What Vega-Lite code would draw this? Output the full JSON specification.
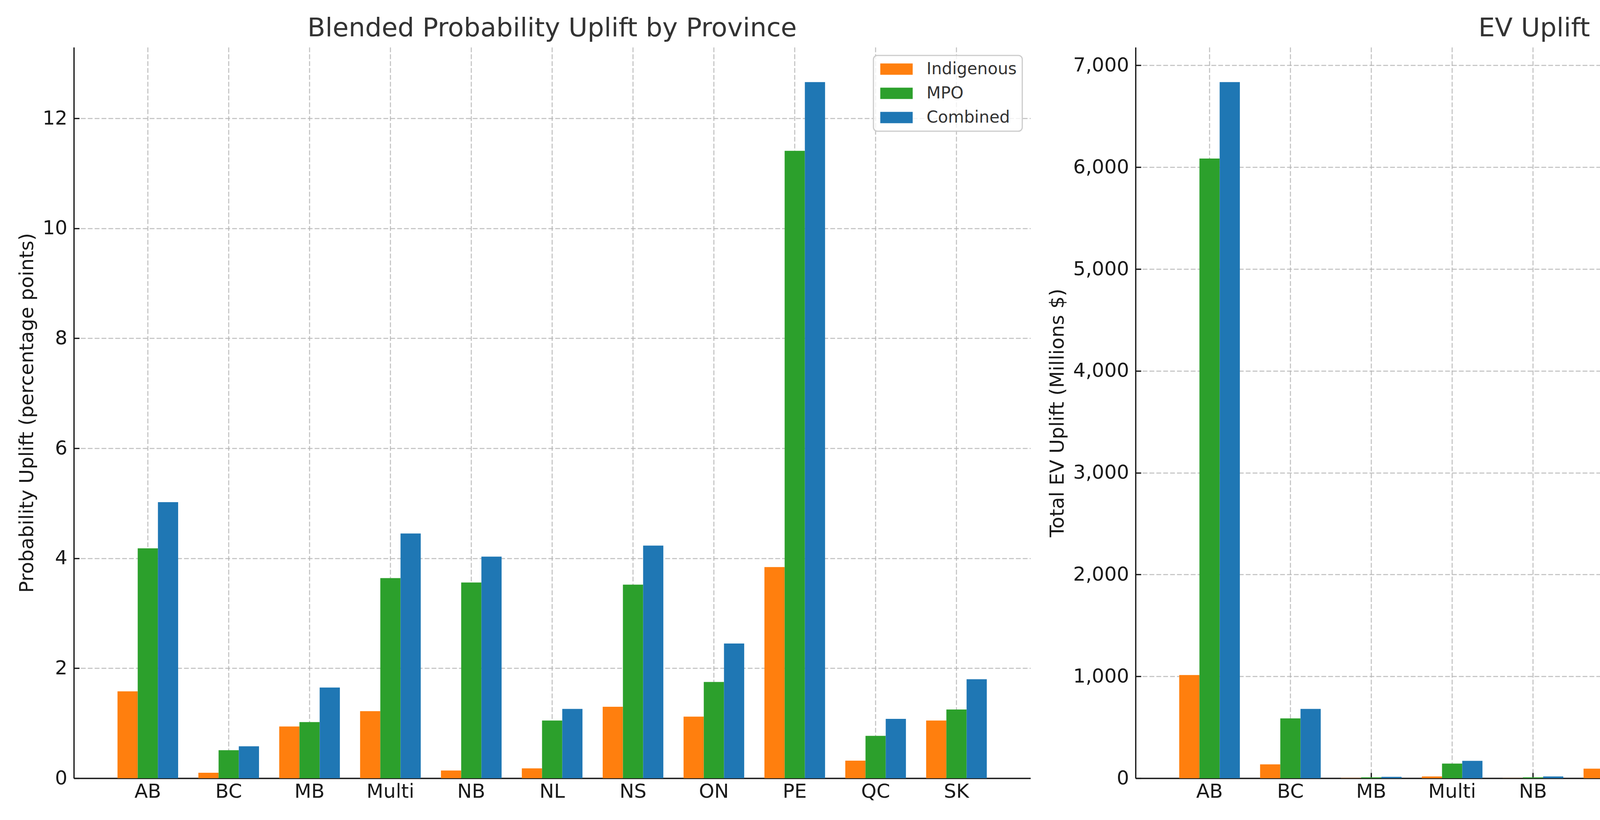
{
  "$schema": "https://vega.github.io/schema/vega-lite/v6.json",
  "background": "white",
  "padding": {"left": 44, "top": 40, "right": 0, "bottom": 0},
  "data": {
    "values": [
      {"province": "AB", "series": "Indigenous", "prob": 1.58, "ev": 1013},
      {"province": "AB", "series": "MPO", "prob": 4.18, "ev": 6085},
      {"province": "AB", "series": "Combined", "prob": 5.02, "ev": 6836},
      {"province": "BC", "series": "Indigenous", "prob": 0.10, "ev": 136},
      {"province": "BC", "series": "MPO", "prob": 0.51, "ev": 588},
      {"province": "BC", "series": "Combined", "prob": 0.58, "ev": 681},
      {"province": "MB", "series": "Indigenous", "prob": 0.94, "ev": 2},
      {"province": "MB", "series": "MPO", "prob": 1.02, "ev": 9},
      {"province": "MB", "series": "Combined", "prob": 1.65, "ev": 13},
      {"province": "Multi", "series": "Indigenous", "prob": 1.22, "ev": 17},
      {"province": "Multi", "series": "MPO", "prob": 3.64, "ev": 144},
      {"province": "Multi", "series": "Combined", "prob": 4.45, "ev": 171},
      {"province": "NB", "series": "Indigenous", "prob": 0.14, "ev": 1},
      {"province": "NB", "series": "MPO", "prob": 3.56, "ev": 9},
      {"province": "NB", "series": "Combined", "prob": 4.03, "ev": 17},
      {"province": "NL", "series": "Indigenous", "prob": 0.18, "ev": 94},
      {"province": "NL", "series": "MPO", "prob": 1.05, "ev": 113},
      {"province": "NL", "series": "Combined", "prob": 1.26, "ev": 152},
      {"province": "NS", "series": "Indigenous", "prob": 1.30, "ev": 21},
      {"province": "NS", "series": "MPO", "prob": 3.52, "ev": 596},
      {"province": "NS", "series": "Combined", "prob": 4.23, "ev": 662},
      {"province": "ON", "series": "Indigenous", "prob": 1.12, "ev": 580},
      {"province": "ON", "series": "MPO", "prob": 1.75, "ev": 673},
      {"province": "ON", "series": "Combined", "prob": 2.45, "ev": 974},
      {"province": "PE", "series": "Indigenous", "prob": 3.84, "ev": 1},
      {"province": "PE", "series": "MPO", "prob": 11.41, "ev": 9},
      {"province": "PE", "series": "Combined", "prob": 12.66, "ev": 9},
      {"province": "QC", "series": "Indigenous", "prob": 0.32, "ev": 90},
      {"province": "QC", "series": "MPO", "prob": 0.77, "ev": 129},
      {"province": "QC", "series": "Combined", "prob": 1.08, "ev": 229},
      {"province": "SK", "series": "Indigenous", "prob": 1.05, "ev": 59},
      {"province": "SK", "series": "MPO", "prob": 1.25, "ev": 113},
      {"province": "SK", "series": "Combined", "prob": 1.80, "ev": 152}
    ]
  },
  "config": {
    "view": {"stroke": null},
    "font": "DejaVu Sans",
    "axis": {
      "domainColor": "#1a1a1a",
      "domainWidth": 3.3,
      "tickColor": "#1a1a1a",
      "tickWidth": 3.3,
      "tickSize": -14,
      "labelFont": "DejaVu Sans",
      "labelFontSize": 50,
      "labelColor": "#1a1a1a",
      "titleFont": "DejaVu Sans",
      "titleFontSize": 50,
      "titleFontWeight": "normal",
      "titleColor": "#1a1a1a",
      "grid": true,
      "gridColor": "#b0b0b0",
      "gridOpacity": 0.7,
      "gridDash": [12.3, 5.3],
      "gridWidth": 3,
      "zindex": 1
    },
    "axisX": {"labelPadding": 23, "labelAngle": 0, "bandPosition": 0.5},
    "axisY": {"labelPadding": 31, "titlePadding": 14},
    "title": {"font": "DejaVu Sans", "fontSize": 66.7, "fontWeight": "normal", "color": "#333333", "offset": 14, "anchor": "middle"},
    "legend": {
      "orient": "top-right",
      "offset": 21,
      "padding": 14,
      "labelFont": "DejaVu Sans",
      "labelFontSize": 42,
      "labelColor": "#333333",
      "labelOffset": 56,
      "labelLimit": 1000,
      "rowPadding": 20,
      "symbolOffset": 24,
      "fillColor": "rgba(255,255,255,0.8)",
      "strokeColor": "#cccccc",
      "strokeWidth": 3,
      "cornerRadius": 10,
      "zindex": 2
    }
  },
  "hconcat": [
    {
      "width": 2449,
      "height": 1872,
      "title": "Blended Probability Uplift by Province",
      "mark": {"type": "bar"},
      "encoding": {
        "x": {"field": "province", "type": "nominal", "sort": null, "scale": {"paddingInner": 0.25, "paddingOuter": 0.54}, "axis": {"title": null}},
        "xOffset": {"field": "series", "type": "nominal", "sort": ["Indigenous", "MPO", "Combined"], "scale": {"paddingInner": 0, "paddingOuter": 0}},
        "y": {"field": "prob", "type": "quantitative", "scale": {"domain": [0, 13.293], "nice": false}, "axis": {"title": "Probability Uplift (percentage points)", "values": [0, 2, 4, 6, 8, 10, 12]}},
        "color": {"field": "series", "type": "nominal", "sort": ["Indigenous", "MPO", "Combined"], "scale": {"domain": ["Indigenous", "MPO", "Combined"], "range": ["#ff7f0e", "#2ca02c", "#1f77b4"]}, "legend": {"title": null, "symbolType": "M-1.976,-0.69H1.976V0.69H-1.976Z", "symbolSize": 1764, "symbolStrokeWidth": 0}}
      }
    },
    {
      "width": 2449,
      "height": 1872,
      "title": "EV Uplift by Province",
      "mark": {"type": "bar"},
      "encoding": {
        "x": {"field": "province", "type": "nominal", "sort": null, "scale": {"paddingInner": 0.25, "paddingOuter": 0.54}, "axis": {"title": null}},
        "xOffset": {"field": "series", "type": "nominal", "sort": ["Indigenous", "MPO", "Combined"], "scale": {"paddingInner": 0, "paddingOuter": 0}},
        "y": {"field": "ev", "type": "quantitative", "scale": {"domain": [0, 7178], "nice": false}, "axis": {"title": "Total EV Uplift (Millions $)", "values": [0, 1000, 2000, 3000, 4000, 5000, 6000, 7000], "format": ",d"}},
        "color": {"field": "series", "type": "nominal", "sort": ["Indigenous", "MPO", "Combined"], "scale": {"domain": ["Indigenous", "MPO", "Combined"], "range": ["#ff7f0e", "#2ca02c", "#1f77b4"]}, "legend": {"title": null, "symbolType": "M-1.976,-0.69H1.976V0.69H-1.976Z", "symbolSize": 1764, "symbolStrokeWidth": 0}}
      }
    }
  ],
  "spacing": 44,
  "resolve": {"scale": {"color": "independent"}, "legend": {"color": "independent"}}
}
